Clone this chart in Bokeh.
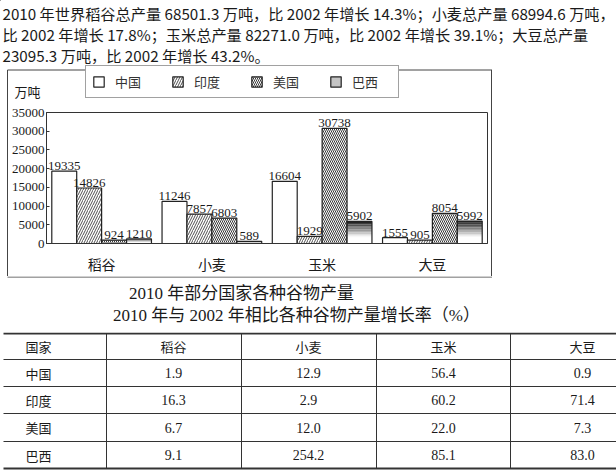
from bokeh.plotting import figure
from bokeh.models import (ColumnDataSource, FactorRange, Range1d, FixedTicker,
                          Legend, LegendItem)
from bokeh.transform import dodge
from bokeh.core.properties import value
from bokeh.embed import file_html
from bokeh.resources import INLINE

# ---------------- data ----------------
intro_lines = [
    "2010 年世界稻谷总产量 68501.3 万吨，比 2002 年增长 14.3%；小麦总产量 68994.6 万吨，",
    "比 2002 年增长 17.8%；玉米总产量 82271.0 万吨，比 2002 年增长 39.1%；大豆总产量",
    "23095.3 万吨，比 2002 年增长 43.2%。",
]
crops = ["稻谷", "小麦", "玉米", "大豆"]
countries = ["中国", "印度", "美国", "巴西"]
china = [19335, 11246, 16604, 1555]
india = [14826, 7857, 1929, 905]
usa = [924, 6803, 30738, 8054]
brazil = [1210, 589, 5902, 5992]
y_ticks = [0, 5000, 10000, 15000, 20000, 25000, 30000, 35000]
unit_label = "万吨"
chart_title = "2010 年部分国家各种谷物产量"
table_title = "2010 年与 2002 年相比各种谷物产量增长率（%）"
table_header = ["国家", "稻谷", "小麦", "玉米", "大豆"]
growth_rice = [1.9, 16.3, 6.7, 9.1]
growth_wheat = [12.9, 2.9, 12.0, 254.2]
growth_corn = [56.4, 60.2, 22.0, 85.1]
growth_soy = [0.9, 71.4, 7.3, 83.0]

CJK = "Noto Sans CJK SC"
SERIF = "'Liberation Serif', 'Noto Sans CJK SC'"
INK = "#1a1a1a"
EDGE = "#444"

def blank(w, h):
    p = figure(width=w, height=h, x_range=Range1d(0, w), y_range=Range1d(h, 0),
               output_backend="svg", toolbar_location=None, min_border=0,
               min_border_left=0, min_border_right=0, min_border_top=0,
               min_border_bottom=0, x_axis_type=None, y_axis_type=None,
               outline_line_color=None)
    return p

HATCH_IN = dict(fill_color="white", hatch_pattern="/", hatch_scale=5,
                hatch_weight=0.8, hatch_color="#222")
HATCH_US = dict(fill_color="white", hatch_pattern="\\", hatch_scale=4,
                hatch_weight=0.9, hatch_color="#222")

# ---------------- top: intro text, legend, unit ----------------
pa = blank(616, 100)
pa.text(x=[2, 2, 2], y=[12, 33, 54], text=intro_lines, text_font=value(CJK),
        text_font_size="15.2px", text_baseline="middle", text_color=INK)
# upper part of the chart's surrounding box
pa.segment(x0=[7, 7, 491], y0=[69.5, 69.5, 69.5], x1=[491.5, 7, 491],
           y1=[69.5, 100, 100], line_color=EDGE, line_width=1)
pa.text(x=[14], y=[91], text=[unit_label], text_font=value(CJK),
        text_font_size="13px", text_baseline="middle", text_color=INK)

# legend swatches (one hidden mark each, outside the visible area)
hid = dict(x=[-500], top=[-500], width=1)
d_cn = pa.vbar(**hid, fill_color="white", line_color="#222", line_width=1.2)
d_in = pa.vbar(**hid, line_color="#222", line_width=1.2, **HATCH_IN)
d_us = pa.vbar(**hid, line_color="#222", line_width=1.2, **HATCH_US)
d_br = pa.vbar(**hid, fill_color="#c4c4c4", line_color="#222", line_width=1.2)
legend = Legend(items=[LegendItem(label=countries[0], renderers=[d_cn]),
                       LegendItem(label=countries[1], renderers=[d_in]),
                       LegendItem(label=countries[2], renderers=[d_us]),
                       LegendItem(label=countries[3], renderers=[d_br])],
                orientation="horizontal", location=(85, 2), margin=0, padding=6,
                spacing=16, label_standoff=10, glyph_width=13, glyph_height=13,
                label_height=13, label_width=40, label_text_font=CJK,
                label_text_font_size="13px", label_text_color="#333",
                border_line_color=EDGE, border_line_width=1,
                background_fill_color="white", background_fill_alpha=1)
pa.add_layout(legend)

# ---------------- bar chart ----------------
pb = figure(width=483, height=176, x_range=FactorRange(factors=crops),
            y_range=Range1d(0, 35000), output_backend="svg", toolbar_location=None,
            min_border_left=37, min_border_right=4, min_border_top=12,
            min_border_bottom=29, outline_line_color="#333")
pb.styles = {"margin-left": "8px",
             "box-shadow": "-1px 0 0 0 #444, 1px 0 0 0 #444"}
pb.xgrid.visible = False
pb.ygrid.visible = False

data = dict(cat=crops, china=china, india=india, usa=usa, brazil=brazil,
            china_t=[str(v) for v in china], india_t=[str(v) for v in india],
            usa_t=[str(v) for v in usa], brazil_t=[str(v) for v in brazil])
N = 14
for k in range(N + 1):
    data[f"b{k}"] = [v * k / N for v in brazil]
src = ColumnDataSource(data)

w = 0.226
offs = [-1.5 * w, -0.5 * w, 0.5 * w, 1.5 * w]
xs = [dodge("cat", o, range=pb.x_range) for o in offs]

pb.vbar(x=xs[0], top="china", width=w, source=src, fill_color="white",
        line_color="#222", line_width=1.2)
pb.vbar(x=xs[1], top="india", width=w, source=src, line_color="#222",
        line_width=1.2, **HATCH_IN)
pb.vbar(x=xs[2], top="usa", width=w, source=src, line_color="#222",
        line_width=1.2, **HATCH_US)
for k in range(N):
    t = (k + 0.5) / N
    g = 255 if t < 0.3 else int(255 - (t - 0.3) / 0.7 * 230)
    col = "#%02x%02x%02x" % (g, g, g)
    pb.vbar(x=xs[3], bottom=f"b{k}", top=f"b{k+1}", width=w, source=src,
            fill_color=col, line_color=None)
pb.vbar(x=xs[3], top="brazil", width=w, source=src, fill_color=None,
        line_color="#222", line_width=1.2)

for x, key in zip(xs, ["china", "india", "usa", "brazil"]):
    pb.text(x=x, y=key, text=key + "_t", source=src, text_align="center",
            text_baseline="bottom", y_offset=-1, text_font=value("Liberation Serif"),
            text_font_size="13px", text_color=INK)

pb.yaxis.ticker = FixedTicker(ticks=y_ticks)
pb.yaxis.major_label_text_font = "Liberation Serif"
pb.yaxis.major_label_text_font_size = "13px"
pb.yaxis.major_label_text_color = INK
pb.yaxis.major_tick_in = 3
pb.yaxis.major_tick_out = 0
pb.yaxis.minor_tick_line_color = None
pb.yaxis.major_label_standoff = 2
pb.yaxis.axis_line_color = "#333"
pb.yaxis.major_tick_line_color = "#333"
pb.xaxis.major_tick_line_color = None
pb.xaxis.major_label_text_font = CJK
pb.xaxis.major_label_text_font_size = "14px"
pb.xaxis.major_label_text_color = INK
pb.xaxis.major_label_standoff = 4
pb.xaxis.axis_line_color = "#333"

# ---------------- titles ----------------
pc = blank(616, 56)
pc.segment(x0=[7], y0=[0.5], x1=[491.5], y1=[0.5], line_color=EDGE, line_width=1)
pc.text(x=[241, 296], y=[17, 39], text=[chart_title, table_title], text_align="center",
        text_baseline="middle", text_font=value(SERIF), text_font_size="17px",
        text_color=INK)

# ---------------- table ----------------
pd = blank(616, 141)
lines_y = [1, 27, 54, 81, 109, 136]
pd.segment(x0=[3] * 6, y0=lines_y, x1=[616] * 6, y1=lines_y, line_color="#333",
           line_width=[2, 1, 1, 1, 1, 2])
col_x = [106, 241, 376, 510]
pd.segment(x0=col_x, y0=[lines_y[0]] * 4, x1=col_x, y1=[lines_y[-1]] * 4,
           line_color="#333", line_width=1)
centers_y = [(lines_y[i] + lines_y[i + 1]) / 2 for i in range(5)]
text_x = [25, 173, 308, 443, 582]
pd.text(x=[text_x[0]], y=[centers_y[0]], text=[table_header[0]], text_align="left",
        text_baseline="middle", text_font=value(CJK), text_font_size="13px",
        text_color=INK)
pd.text(x=text_x[1:], y=[centers_y[0]] * 4, text=table_header[1:], text_align="center",
        text_baseline="middle", text_font=value(CJK), text_font_size="13px",
        text_color=INK)
pd.text(x=[text_x[0]] * 4, y=centers_y[1:], text=countries, text_align="left",
        text_baseline="middle", text_font=value(CJK), text_font_size="13px",
        text_color=INK)
for cx, vals in zip(text_x[1:], [growth_rice, growth_wheat, growth_corn, growth_soy]):
    pd.text(x=[cx] * 4, y=centers_y[1:], text=[f"{v:.1f}" for v in vals],
            text_align="center", text_baseline="middle",
            text_font=value("Liberation Serif"), text_font_size="14px", text_color=INK)

open("out.html", "w").write(file_html([pa, pb, pc, pd], INLINE, title="chart"))
